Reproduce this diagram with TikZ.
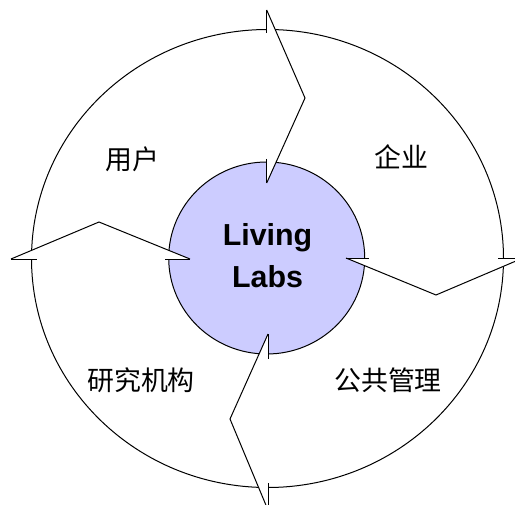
\documentclass[tikz,border=0pt]{standalone}
\usepackage{fontspec}
\setmainfont{Liberation Sans}
\newfontfamily\cjk{Noto Sans CJK SC}
\definecolor{labblue}{RGB}{204,204,255}
\tikzset{
  ring/.style={draw=black, line width=1bp},
  headfill/.style={fill=white, draw=none},
  headline/.style={draw=black, line width=1bp, line join=miter},
  cjklabel/.style={font=\cjk\fontsize{27}{27}\selectfont, inner sep=0pt},
  hublabel/.style={font=\bfseries\fontsize{30.5}{42}\selectfont, align=center, inner sep=0pt}
}
\begin{document}
\begin{tikzpicture}[x=1bp,y=-1bp]
\useasboundingbox (0,0) rectangle (515,505);
\clip (0,0) rectangle (515,505);
% rings
\draw[ring] (267.5,258.5) ellipse [x radius=236, y radius=229];
\draw[ring, fill=labblue] (266.7,258) ellipse [x radius=98, y radius=96];
% top arrow (points right)
\coordinate (tO) at (266.7,10);
\coordinate (tT) at (305,98);
\coordinate (tI) at (266.7,183);
\fill[headfill] (tO) -- (tT) -- (tI) -- cycle;
\draw[headline] (tO) -- (tT) -- (tI);
\draw[headline] (tO) -- (266.7,33);
\draw[headline] (266.7,159) -- (tI);
% right arrow (points down)
\coordinate (rI) at (346,258);
\coordinate (rT) at (436,295);
\coordinate (rO) at (523,258);
\fill[headfill] (rO) -- (rT) -- (rI) -- cycle;
\draw[headline] (rO) -- (rT) -- (rI);
\draw[headline] (rI) -- (369,258);
\draw[headline] (498,258) -- (rO);
% bottom arrow (points left)
\coordinate (bI) at (268,334);
\coordinate (bT) at (230,419);
\coordinate (bO) at (268,510);
\fill[headfill] (bO) -- (bT) -- (bI) -- cycle;
\draw[headline] (bO) -- (bT) -- (bI);
\draw[headline] (bI) -- (268,359);
\draw[headline] (268,483) -- (bO);
% left arrow (points up)
\coordinate (lO) at (11,259);
\coordinate (lT) at (99,222);
\coordinate (lI) at (190,259);
\fill[headfill] (lO) -- (lT) -- (lI) -- cycle;
\draw[headline] (lO) -- (lT) -- (lI);
\draw[headline] (lO) -- (37,259);
\draw[headline] (165,259) -- (lI);
% labels
\node[hublabel] (hub) at (267.5,255.5) {Living\\Labs};
\node[cjklabel] (user) at (132,159) {用户};
\node[cjklabel] (firm) at (401,157) {企业};
\node[cjklabel] (research) at (141,380) {研究机构};
\node[cjklabel] (public) at (388,380) {公共管理};
\end{tikzpicture}
\end{document}
